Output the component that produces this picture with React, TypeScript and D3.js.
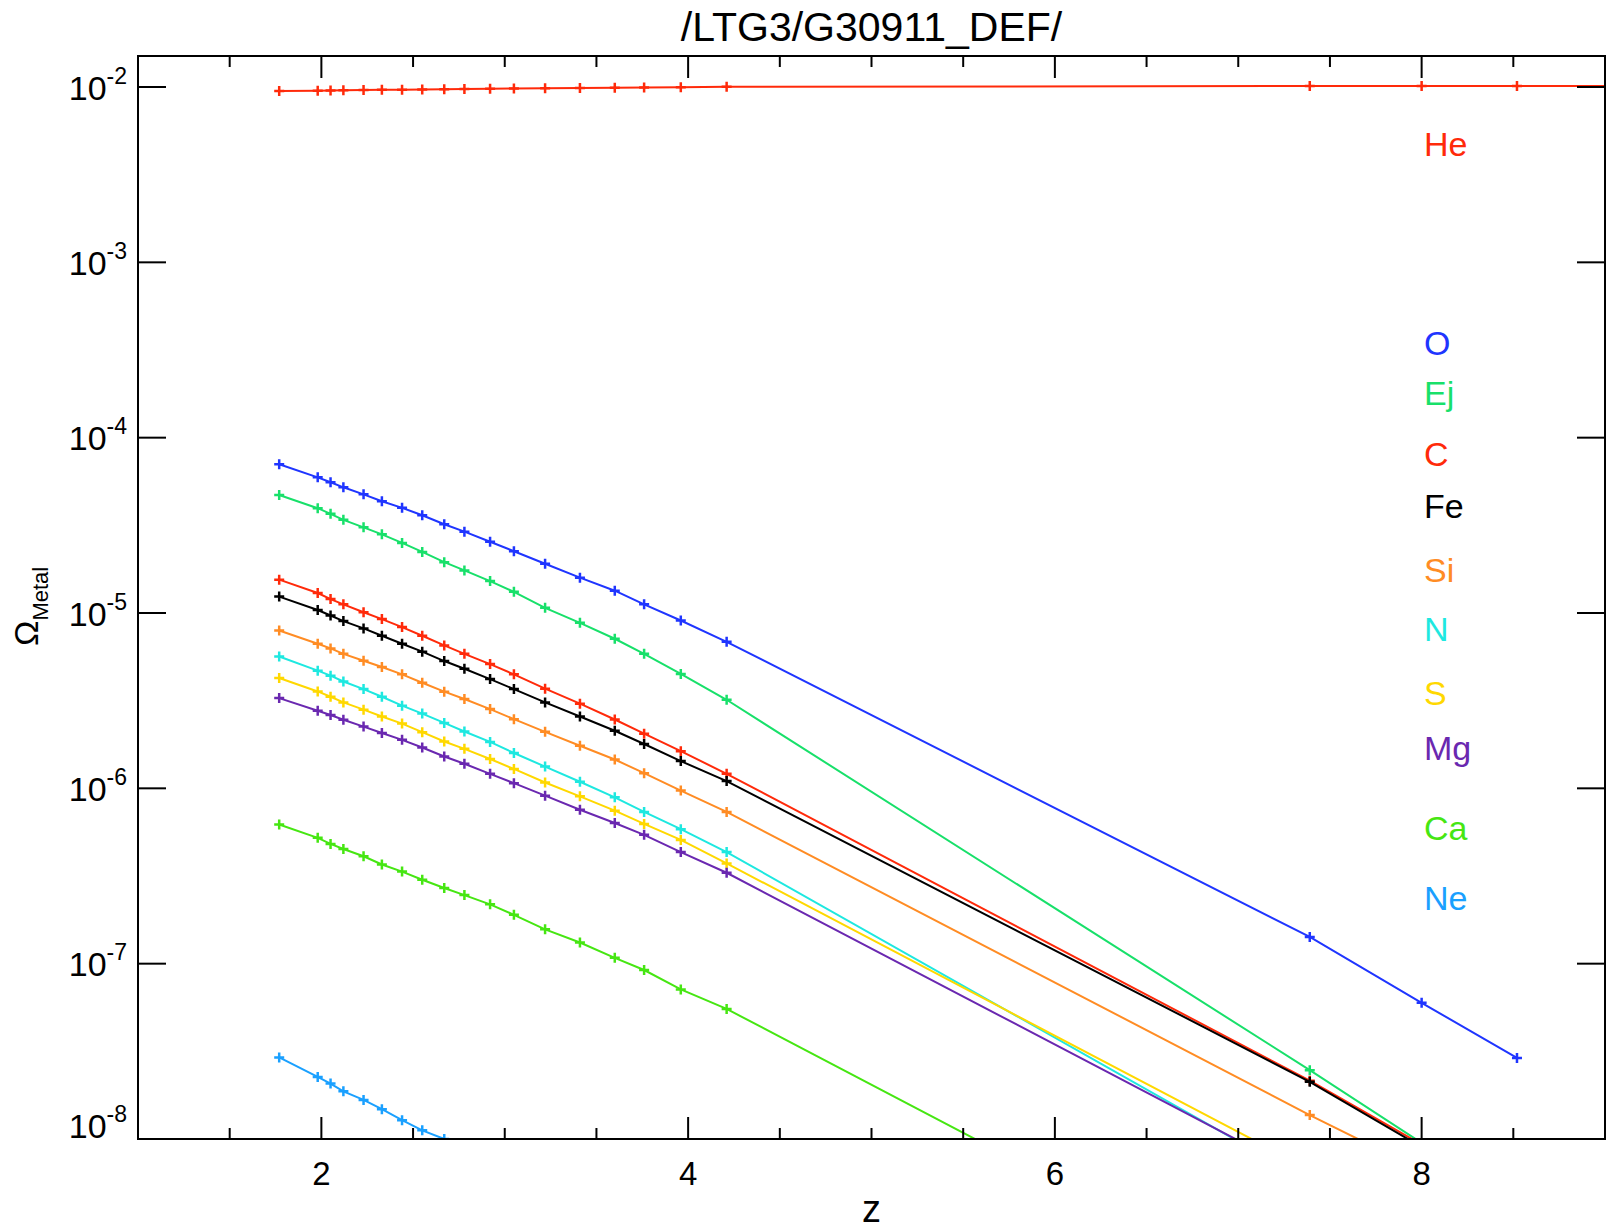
import React from "react";
import * as d3 from "d3";

// ---- data ----
const titleText = "/LTG3/G30911_DEF/";
const redshifts = [1.77, 1.98, 2.05, 2.12, 2.23, 2.33, 2.44, 2.55, 2.67, 2.78, 2.92, 3.05, 3.22, 3.41, 3.60, 3.76, 3.96, 4.21, 7.39, 8.00, 8.52, 9.50];

const heValues = [9.49e-3, 9.53e-3, 9.55e-3, 9.57e-3, 9.60e-3, 9.63e-3, 9.66e-3, 9.69e-3, 9.72e-3, 9.75e-3, 9.78e-3, 9.81e-3, 9.85e-3, 9.88e-3, 9.91e-3, 9.94e-3, 9.97e-3, 1.002e-2, 1.013e-2, 1.013e-2, 1.014e-2, 1.014e-2];
const oValues = [7.05e-5, 5.94e-5, 5.57e-5, 5.21e-5, 4.75e-5, 4.34e-5, 3.98e-5, 3.61e-5, 3.21e-5, 2.91e-5, 2.55e-5, 2.25e-5, 1.91e-5, 1.59e-5, 1.34e-5, 1.12e-5, 9.06e-6, 6.85e-6, 1.42e-7, 5.98e-8, 2.9e-8, null];
const ejValues = [4.71e-5, 3.96e-5, 3.68e-5, 3.40e-5, 3.08e-5, 2.81e-5, 2.51e-5, 2.23e-5, 1.95e-5, 1.75e-5, 1.52e-5, 1.32e-5, 1.07e-5, 8.79e-6, 7.13e-6, 5.85e-6, 4.49e-6, 3.20e-6, 2.47e-8, 9.5e-9, null, null];
const cValues = [1.55e-5, 1.30e-5, 1.20e-5, 1.12e-5, 1.01e-5, 9.23e-6, 8.31e-6, 7.42e-6, 6.53e-6, 5.85e-6, 5.11e-6, 4.47e-6, 3.70e-6, 3.04e-6, 2.47e-6, 2.05e-6, 1.63e-6, 1.21e-6, 2.15e-8, 9.3e-9, null, null];
const feValues = [1.24e-5, 1.04e-5, 9.68e-6, 8.99e-6, 8.17e-6, 7.42e-6, 6.68e-6, 6.02e-6, 5.32e-6, 4.81e-6, 4.20e-6, 3.68e-6, 3.09e-6, 2.57e-6, 2.13e-6, 1.79e-6, 1.43e-6, 1.10e-6, 2.12e-8, 9.0e-9, null, null];
const siValues = [7.94e-6, 6.68e-6, 6.28e-6, 5.85e-6, 5.34e-6, 4.92e-6, 4.47e-6, 4.00e-6, 3.56e-6, 3.23e-6, 2.83e-6, 2.48e-6, 2.10e-6, 1.75e-6, 1.46e-6, 1.22e-6, 9.71e-7, 7.34e-7, 1.37e-8, 6.6e-9, null, null];
const nValues = [5.65e-6, 4.69e-6, 4.39e-6, 4.07e-6, 3.68e-6, 3.33e-6, 2.96e-6, 2.67e-6, 2.36e-6, 2.11e-6, 1.84e-6, 1.59e-6, 1.33e-6, 1.09e-6, 8.89e-7, 7.34e-7, 5.85e-7, 4.33e-7, 5.7e-9, null, null, null];
const sValues = [4.26e-6, 3.57e-6, 3.33e-6, 3.09e-6, 2.81e-6, 2.57e-6, 2.34e-6, 2.09e-6, 1.85e-6, 1.68e-6, 1.47e-6, 1.29e-6, 1.08e-6, 9.0e-7, 7.46e-7, 6.27e-7, 5.08e-7, 3.73e-7, 6.7e-9, null, null, null];
const mgValues = [3.27e-6, 2.77e-6, 2.62e-6, 2.46e-6, 2.25e-6, 2.07e-6, 1.89e-6, 1.71e-6, 1.52e-6, 1.38e-6, 1.21e-6, 1.07e-6, 9.08e-7, 7.55e-7, 6.34e-7, 5.43e-7, 4.33e-7, 3.30e-7, 6.0e-9, null, null, null];
const caValues = [6.22e-7, 5.22e-7, 4.82e-7, 4.51e-7, 4.10e-7, 3.68e-7, 3.35e-7, 3.01e-7, 2.70e-7, 2.46e-7, 2.18e-7, 1.90e-7, 1.57e-7, 1.32e-7, 1.08e-7, 9.2e-8, 7.13e-8, 5.52e-8, 1.0e-9, null, null, null];
const neValues = [2.92e-8, 2.26e-8, 2.07e-8, 1.87e-8, 1.67e-8, 1.48e-8, 1.28e-8, 1.12e-8, 1.0e-8, 8.7e-9, null, null, null, null, null, null, null, null, null, null, null, null];

const seriesNames = ["He", "O", "Ej", "C", "Fe", "Si", "N", "S", "Mg", "Ca", "Ne"];
const seriesValues = [heValues, oValues, ejValues, cValues, feValues, siValues, nValues, sValues, mgValues, caValues, neValues];

const xMajorTicks = [2, 4, 6, 8];
const xMinorTicks = [1.5, 2.5, 3, 3.5, 4.5, 5, 5.5, 6.5, 7, 7.5, 8.5];
const yTickExponents = [-2, -3, -4, -5, -6, -7, -8];

// ---- styles / layout ----
const seriesColors = ["#ff2a0a", "#1f35ff", "#18e06a", "#ff2a0a", "#000000", "#ff8c24", "#1ee8e0", "#ffd800", "#6a28b0", "#46e612", "#1aa0ff"];
const labelBaselines = [156, 355, 405, 466, 518, 582, 641, 705, 760, 840, 910];
const W = 1606;
const H = 1230;
const L = 138, R = 1605, T = 56, B = 1139;
const FONT = "'Liberation Sans', Arial, Helvetica, sans-serif";

export default function App() {
  const x = d3.scaleLinear().domain([1, 9]).range([L, R]);
  const y = d3.scaleLog().domain([1e-8, 1e-2]).range([B, 87]);

  const line = d3
    .line<[number, number | null]>()
    .defined((d) => d[1] != null && (d[1] as number) > 0)
    .x((d) => x(d[0]))
    .y((d) => y(d[1] as number));

  return (
    <svg
      width={W}
      height={H}
      style={{ position: "absolute", left: 0, top: 0, background: "#fff" }}
      fontFamily={FONT}
    >
      <defs>
        <clipPath id="plotClip">
          <rect x={L} y={T} width={R - L} height={B - T} />
        </clipPath>
      </defs>
      <rect x={0} y={0} width={W} height={H} fill="#fff" />

      {/* data */}
      <g clipPath="url(#plotClip)">
        {seriesValues.map((vals, si) => {
          const pts: [number, number | null][] = redshifts.map((z, i) => [z, vals[i]]);
          const color = seriesColors[si];
          return (
            <g key={seriesNames[si]}>
              <path d={line(pts) || ""} fill="none" stroke={color} strokeWidth={2} />
              {pts
                .filter((p) => p[1] != null && (p[1] as number) > 0)
                .map((p, i) => {
                  const cx = x(p[0]);
                  const cy = y(p[1] as number);
                  return (
                    <path
                      key={i}
                      d={`M${cx - 5},${cy}h10M${cx},${cy - 5}v10`}
                      stroke={color}
                      strokeWidth={2.5}
                      fill="none"
                    />
                  );
                })}
            </g>
          );
        })}
      </g>

      {/* frame */}
      <rect x={L} y={T} width={R - L} height={B - T} fill="none" stroke="#000" strokeWidth={2} />

      {/* x ticks */}
      {xMajorTicks.map((t) => (
        <g key={"xM" + t}>
          <line x1={x(t)} x2={x(t)} y1={B} y2={B - 22} stroke="#000" strokeWidth={2} />
          <line x1={x(t)} x2={x(t)} y1={T} y2={T + 22} stroke="#000" strokeWidth={2} />
          <text x={x(t)} y={1185} fontSize={33} textAnchor="middle" fill="#000">
            {t}
          </text>
        </g>
      ))}
      {xMinorTicks.map((t) => (
        <g key={"xm" + t}>
          <line x1={x(t)} x2={x(t)} y1={B} y2={B - 11} stroke="#000" strokeWidth={2} />
          <line x1={x(t)} x2={x(t)} y1={T} y2={T + 11} stroke="#000" strokeWidth={2} />
        </g>
      ))}

      {/* y ticks */}
      {yTickExponents.map((e) => {
        const ty = y(Math.pow(10, e));
        const base = Math.min(ty + 12.5, B - 1);
        return (
          <g key={"y" + e}>
            <line x1={L} x2={L + 28} y1={ty} y2={ty} stroke="#000" strokeWidth={2} />
            <line x1={R} x2={R - 28} y1={ty} y2={ty} stroke="#000" strokeWidth={2} />
            <text x={127} y={base} textAnchor="end" fill="#000">
              <tspan fontSize={34}>10</tspan>
              <tspan fontSize={23} dy={-16}>
                {String(e)}
              </tspan>
            </text>
          </g>
        );
      })}

      {/* title */}
      <text x={(L + R) / 2} y={41} fontSize={41} textAnchor="middle" fill="#000">
        {titleText}
      </text>

      {/* axis titles */}
      <text x={(L + R) / 2} y={1222} fontSize={38} textAnchor="middle" fill="#000">
        z
      </text>
      <text transform="translate(38,646) rotate(-90)" fill="#000">
        <tspan fontSize={34}>Ω</tspan>
        <tspan fontSize={22} dy={10}>
          Metal
        </tspan>
      </text>

      {/* labels */}
      {seriesNames.map((n, i) => (
        <text key={"lab" + n} x={1424} y={labelBaselines[i]} fontSize={34} fill={seriesColors[i]}>
          {n}
        </text>
      ))}
    </svg>
  );
}
